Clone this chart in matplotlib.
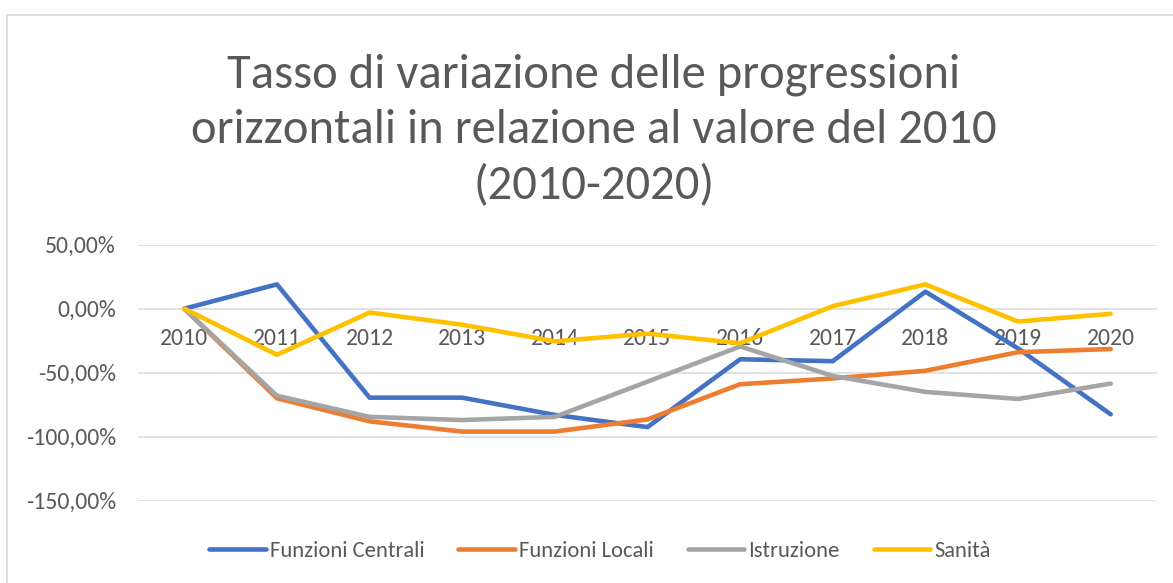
import matplotlib
matplotlib.use('Agg')
import matplotlib.pyplot as plt
from matplotlib.ticker import FuncFormatter
from matplotlib.patches import Rectangle

plt.rcParams['font.family'] = ['Carlito', 'Lato', 'DejaVu Sans']

years = ['2010', '2011', '2012', '2013', '2014', '2015', '2016', '2017', '2018', '2019', '2020']
funzioni_centrali = [0, 19.0, -69.5, -69.5, -83.0, -92.5, -39.5, -41.0, 13.3, -31.0, -82.5]
funzioni_locali = [0, -70.0, -88.0, -96.0, -96.0, -86.5, -59.0, -54.5, -48.5, -34.0, -31.5]
istruzione = [0, -68.0, -84.5, -87.0, -84.5, -57.0, -29.5, -52.5, -65.0, -70.5, -58.5]
sanita = [0, -36.0, -3.0, -12.5, -25.5, -19.5, -27.0, 2.0, 19.0, -10.0, -4.0]

series = [
    ('Funzioni Centrali', funzioni_centrali, '#4472C4'),
    ('Funzioni Locali', funzioni_locali, '#ED7D31'),
    ('Istruzione', istruzione, '#A5A5A5'),
    ('Sanità', sanita, '#FFC000'),
]

TXT = '#595959'
W, H = 1173, 583
fig = plt.figure(figsize=(W / 100, H / 100), dpi=100)

# chart frame (Excel style border), only top/left visible
fig.patches.append(Rectangle((7 / W, -0.1), 1.2, 1.1 - 15 / H, transform=fig.transFigure,
                             fill=False, edgecolor='#D9D9D9', linewidth=1.2))

ax = fig.add_axes([138 / W, 1 - 500.7 / H, (1157 - 138) / W, 256 / H])
x = list(range(len(years)))
for name, vals, col in series:
    ax.plot(x, vals, color=col, linewidth=3.3, label=name, solid_capstyle='round', solid_joinstyle='round')

ax.set_xlim(-0.5, len(years) - 0.5)
ax.set_ylim(-150, 50)
ax.set_yticks([-150, -100, -50, 0, 50])
ax.yaxis.set_major_formatter(FuncFormatter(lambda v, p: f'{v:.2f}%'.replace('.', ',')))
ax.set_xticks(x)
ax.set_xticklabels(years)
ax.grid(axis='y', color='#D9D9D9', linewidth=1.1)
ax.set_axisbelow(True)
for s in ax.spines.values():
    s.set_visible(False)
ax.spines['bottom'].set_position(('data', 0))
ax.tick_params(axis='x', length=0, pad=14, labelsize=17, labelcolor=TXT)
ax.tick_params(axis='y', length=0, pad=16, labelsize=17, labelcolor=TXT)

fig.text(594 / W, 1 - 130 / H, 'Tasso di variazione delle progressioni\norizzontali in relazione al valore del 2010\n(2010-2020)',
         ha='center', va='center', fontsize=35, color=TXT, linespacing=1.38)

leg = fig.legend(loc='center', bbox_to_anchor=(600 / W, 1 - 551 / H), ncol=4, frameon=False,
                 fontsize=16.2, handlelength=2.5, handletextpad=0.2, columnspacing=1.5,
                 labelcolor=TXT)

fig.savefig('out.png', dpi=100)
